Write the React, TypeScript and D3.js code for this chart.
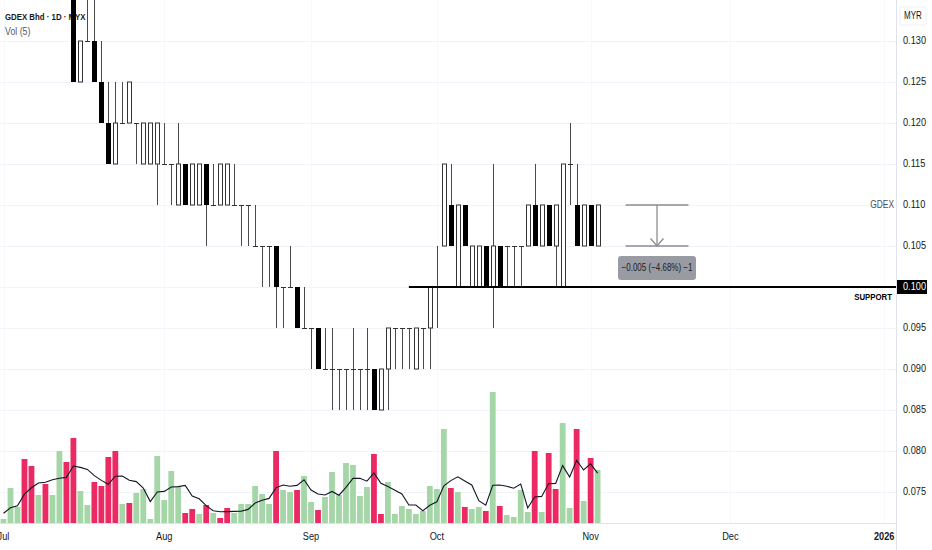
import { useRef, useEffect } from "react";
import * as d3 from "d3";

const WIDTH = 932;
const HEIGHT = 550;
const FONT = "'Liberation Sans', Arial, sans-serif";
const SQUEEZE = 0.8; // the source renders a narrow UI font

// daily bars, Jul 1 2025 .. Nov 4 2025 (index = trading day)
const opens = [
  0.145, 0.14, 0.145, 0.145, 0.145, 0.14, 0.145, 0.14, 0.14, 0.145,
  0.14, 0.125, 0.13, 0.13, 0.125, 0.12, 0.115, 0.12, 0.12, 0.12,
  0.115, 0.115, 0.115, 0.115, 0.115, 0.11, 0.115, 0.11, 0.11, 0.115,
  0.11, 0.11, 0.11, 0.11, 0.11, 0.11, 0.105, 0.105, 0.105, 0.105,
  0.1, 0.1, 0.1, 0.095, 0.095, 0.095, 0.09, 0.09, 0.09, 0.09,
  0.09, 0.09, 0.09, 0.09, 0.085, 0.09, 0.095, 0.095, 0.095, 0.09,
  0.095, 0.095, 0.1, 0.105, 0.11, 0.1, 0.11, 0.1, 0.1, 0.105,
  0.1, 0.105, 0.105, 0.105, 0.105, 0.105, 0.11, 0.105, 0.11, 0.105,
  0.1, 0.115, 0.11, 0.105, 0.11, 0.105,
];
const highs = [
  0.15, 0.145, 0.15, 0.15, 0.145, 0.145, 0.145, 0.145, 0.15, 0.145,
  0.14, 0.13, 0.135, 0.135, 0.13, 0.125, 0.125, 0.125, 0.125, 0.12,
  0.12, 0.12, 0.12, 0.12, 0.115, 0.12, 0.115, 0.115, 0.115, 0.115,
  0.115, 0.115, 0.115, 0.115, 0.11, 0.11, 0.11, 0.105, 0.105, 0.105,
  0.1, 0.105, 0.1, 0.1, 0.095, 0.095, 0.095, 0.095, 0.09, 0.09,
  0.095, 0.09, 0.095, 0.09, 0.09, 0.095, 0.095, 0.095, 0.095, 0.095,
  0.095, 0.1, 0.105, 0.115, 0.115, 0.11, 0.11, 0.105, 0.105, 0.105,
  0.115, 0.105, 0.105, 0.105, 0.105, 0.11, 0.115, 0.11, 0.11, 0.11,
  0.115, 0.12, 0.115, 0.11, 0.11, 0.11,
];
const lows = [
  0.14, 0.14, 0.14, 0.14, 0.14, 0.14, 0.14, 0.14, 0.14, 0.14,
  0.125, 0.125, 0.13, 0.125, 0.12, 0.115, 0.115, 0.12, 0.12, 0.115,
  0.115, 0.115, 0.11, 0.115, 0.11, 0.11, 0.11, 0.11, 0.11, 0.105,
  0.11, 0.11, 0.11, 0.11, 0.105, 0.105, 0.105, 0.1, 0.1, 0.095,
  0.095, 0.1, 0.095, 0.095, 0.09, 0.09, 0.09, 0.085, 0.085, 0.085,
  0.085, 0.085, 0.085, 0.085, 0.085, 0.085, 0.09, 0.09, 0.09, 0.09,
  0.09, 0.09, 0.095, 0.105, 0.105, 0.1, 0.105, 0.1, 0.1, 0.1,
  0.095, 0.1, 0.1, 0.1, 0.1, 0.105, 0.105, 0.105, 0.105, 0.1,
  0.1, 0.11, 0.105, 0.105, 0.105, 0.105,
];
const closes = [
  0.145, 0.145, 0.145, 0.14, 0.14, 0.145, 0.14, 0.145, 0.145, 0.14,
  0.125, 0.13, 0.13, 0.125, 0.12, 0.115, 0.12, 0.12, 0.125, 0.12,
  0.12, 0.12, 0.12, 0.115, 0.115, 0.115, 0.11, 0.115, 0.115, 0.11,
  0.11, 0.115, 0.115, 0.11, 0.11, 0.11, 0.105, 0.105, 0.105, 0.1,
  0.1, 0.1, 0.095, 0.095, 0.095, 0.09, 0.09, 0.09, 0.09, 0.09,
  0.09, 0.09, 0.09, 0.085, 0.09, 0.095, 0.095, 0.095, 0.095, 0.095,
  0.095, 0.1, 0.1, 0.115, 0.105, 0.11, 0.105, 0.105, 0.105, 0.1,
  0.105, 0.1, 0.105, 0.105, 0.105, 0.11, 0.105, 0.11, 0.105, 0.11,
  0.115, 0.115, 0.105, 0.11, 0.105, 0.11,
];

// volume in thousand shares; G = up bar, R = down bar
const volumes = [
  60, 525, 240, 960, 855, 420, 585, 420, 1080, 915,
  1275, 480, 270, 615, 555, 990, 1080, 285, 300, 450,
  510, 60, 1005, 345, 780, 540, 150, 210, 135, 270,
  150, 75, 225, 150, 285, 285, 555, 435, 285, 1080,
  495, 465, 495, 705, 315, 195, 390, 765, 420, 900,
  870, 405, 540, 1035, 135, 615, 135, 255, 210, 135,
  180, 555, 510, 1410, 525, 465, 240, 210, 240, 180,
  1965, 255, 120, 90, 495, 165, 1080, 165, 1050, 510,
  1500, 225, 1410, 330, 975, 795,
];
const prevVolumes = [120, 90, 90, 375]; // last days of June, only seed the MA
const volDir = (
  "GGGRRGRGGR" + "RGGRRRRGRG" + "GGGGGGRRGR" + "GRRGGGGGGR" + "GGRGGRGGGG" +
  "GGGRRGGGGG" + "GGGGRGRGGR" + "GRGGGGRGRR" + "GGRGRG"
).split("");

const priceTicks = [0.075, 0.08, 0.085, 0.09, 0.095, 0.1, 0.105, 0.11, 0.115, 0.12, 0.125, 0.13];
const monthLabels = ["Jul", "Aug", "Sep", "Oct", "Nov", "Dec", "2026"];
const monthIndex = [0, 23, 44, 62, 84, 104, 126];

const supportPrice = 0.1;
const supportFrom = 58;
const lastPrice = 0.11;
const measure = { from: 89, to: 98, top: 0.11, bottom: 0.105, text: "\u22120.005 (\u22124.68%) \u22121" };

type Sel = d3.Selection<SVGGElement, unknown, null, undefined> | d3.Selection<SVGSVGElement, unknown, null, undefined>;

// narrow text: x/y are the anchor point, glyphs squeezed horizontally
function label(
  parent: Sel,
  x: number,
  y: number,
  txt: string,
  size: number,
  opts: { anchor?: string; weight?: number; fill?: string } = {},
) {
  return (parent as any)
    .append("text")
    .attr("transform", `translate(${x},${y}) scale(${SQUEEZE},1)`)
    .attr("text-anchor", opts.anchor ?? "start")
    .attr("dominant-baseline", "middle")
    .attr("font-family", FONT)
    .attr("font-size", size)
    .attr("font-weight", opts.weight ?? 400)
    .attr("fill", opts.fill ?? "#131722")
    .text(txt);
}

export default function App() {
  const svgRef = useRef<SVGSVGElement>(null);

  useEffect(() => {
    if (!svgRef.current) return;
    const svg = d3.select(svgRef.current);
    svg.selectAll("*").remove();

    const plotRight = 896;
    const paneBottom = 523;
    const volTop = 392;

    const x = d3.scaleLinear().domain([0, 85]).range([3.5, 597.6]);
    const y = d3.scaleLinear().domain([0.075, 0.13]).range([492, 41]);
    const yVol = d3.scaleLinear().domain([0, d3.max(volumes) ?? 1]).range([paneBottom, volTop]);

    svg.append("rect").attr("width", WIDTH).attr("height", HEIGHT).attr("fill", "#ffffff");

    svg.append("defs").append("clipPath").attr("id", "pane")
      .append("rect").attr("width", plotRight).attr("height", paneBottom);

    // grid
    const grid = svg.append("g");
    grid.selectAll("line.h").data(priceTicks).join("line")
      .attr("x1", 0).attr("x2", plotRight)
      .attr("y1", (d) => Math.round(y(d)) + 0.5).attr("y2", (d) => Math.round(y(d)) + 0.5)
      .attr("stroke", "#f0f3fa");
    grid.selectAll("line.v").data(monthIndex).join("line")
      .attr("x1", (d) => Math.round(x(d)) + 0.5).attr("x2", (d) => Math.round(x(d)) + 0.5)
      .attr("y1", 0).attr("y2", paneBottom)
      .attr("stroke", "#f7f8fa");

    // legend
    label(svg, 5, 17, "GDEX Bhd \u00b7 1D \u00b7 MYX", 9.8, { weight: 700 });
    label(svg, 5, 32, "Vol (5)", 11, { fill: "#555a66" });

    const pane = svg.append("g").attr("clip-path", "url(#pane)");

    // volume bars
    pane.selectAll("rect.vol").data(volumes).join("rect")
      .attr("x", (_, i) => x(i) - 2.9)
      .attr("width", 5.8)
      .attr("y", (d) => yVol(d))
      .attr("height", (d) => paneBottom - yVol(d))
      .attr("fill", (_, i) => (volDir[i] === "G" ? "#a5d6a7" : "#eb2a64"));

    // Vol MA(5)
    const all = [...prevVolumes, ...volumes];
    const ma = volumes.map((_, i) => d3.mean(all.slice(i, i + 5)) ?? 0);
    pane.append("path").datum(ma)
      .attr("d", d3.line<number>().x((_, i) => x(i)).y((d) => yVol(d)))
      .attr("fill", "none").attr("stroke", "#131722").attr("stroke-width", 1.1);

    // candles
    const candles = pane.append("g");
    opens.forEach((o, i) => {
      const c = closes[i];
      const cx = Math.round(x(i)) + 0.5;
      candles.append("line")
        .attr("x1", cx).attr("x2", cx)
        .attr("y1", y(highs[i])).attr("y2", y(lows[i]))
        .attr("stroke", "#4a4a4a").attr("stroke-width", 1);
      if (o === c) {
        candles.append("line")
          .attr("x1", cx - 2.5).attr("x2", cx + 2.5)
          .attr("y1", Math.round(y(o)) + 0.5).attr("y2", Math.round(y(o)) + 0.5)
          .attr("stroke", "#333333");
      } else if (c > o) {
        candles.append("rect")
          .attr("x", cx - 2).attr("width", 4)
          .attr("y", y(c)).attr("height", y(o) - y(c))
          .attr("fill", "#ffffff").attr("stroke", "#333333").attr("stroke-width", 1);
      } else {
        candles.append("rect")
          .attr("x", cx - 2.5).attr("width", 5)
          .attr("y", y(o)).attr("height", y(c) - y(o))
          .attr("fill", "#000000");
      }
    });

    // support line
    pane.append("line")
      .attr("x1", x(supportFrom)).attr("x2", plotRight)
      .attr("y1", y(supportPrice)).attr("y2", y(supportPrice))
      .attr("stroke", "#000000").attr("stroke-width", 2);
    label(svg, 892, y(supportPrice) + 10, "SUPPORT", 9.8, { anchor: "end", weight: 700, fill: "#000000" });

    // price range measure
    const mx1 = x(measure.from);
    const mx2 = x(measure.to);
    const mxm = (mx1 + mx2) / 2;
    const myt = y(measure.top);
    const myb = y(measure.bottom);
    const mg = svg.append("g").attr("stroke", "#8a8d94").attr("stroke-width", 1.3).attr("fill", "none");
    mg.append("line").attr("x1", mx1).attr("x2", mx2).attr("y1", myt).attr("y2", myt);
    mg.append("line").attr("x1", mx1).attr("x2", mx2).attr("y1", myb).attr("y2", myb);
    mg.append("line").attr("x1", mxm).attr("x2", mxm).attr("y1", myt).attr("y2", myb);
    mg.append("polyline").attr("points", `${mxm - 6.5},${myb - 7.5} ${mxm},${myb} ${mxm + 6.5},${myb - 7.5}`);
    svg.append("rect").attr("x", mxm - 39).attr("y", myb + 10).attr("width", 78).attr("height", 24)
      .attr("rx", 3).attr("fill", "#989ba2");
    label(svg, mxm, myb + 22.5, measure.text, 10, { anchor: "middle", fill: "#1e2026" });

    // symbol label on last price
    label(svg, 894, y(lastPrice), "GDEX", 10.5, { anchor: "end", fill: "#4a4e59" });

    // axes
    svg.append("line").attr("x1", plotRight + 0.5).attr("x2", plotRight + 0.5).attr("y1", 0).attr("y2", HEIGHT)
      .attr("stroke", "#e0e3eb");
    svg.append("line").attr("x1", 0).attr("x2", plotRight).attr("y1", paneBottom + 0.5).attr("y2", paneBottom + 0.5)
      .attr("stroke", "#e0e3eb");

    const fmt = d3.format(".3f");
    priceTicks.filter((d) => d !== supportPrice).forEach((d) => {
      label(svg, 903, y(d), fmt(d), 11.5);
    });

    svg.append("rect").attr("x", plotRight + 1).attr("y", y(supportPrice) - 7).attr("width", 30).attr("height", 14)
      .attr("fill", "#000000");
    label(svg, 903, y(supportPrice), fmt(supportPrice), 11.5, { fill: "#ffffff" });

    svg.append("rect").attr("x", 900).attr("y", 7).attr("width", 26).attr("height", 18)
      .attr("fill", "none").attr("stroke", "#f0f1f4");
    label(svg, 913, 16, "MYR", 10, { anchor: "middle" });

    monthLabels.forEach((m, i) => {
      label(svg, x(monthIndex[i]), 537, m, 11.5, { anchor: "middle", weight: m === "2026" ? 700 : 400 });
    });
  }, []);

  return (
    <svg
      ref={svgRef}
      width={WIDTH}
      height={HEIGHT}
      style={{ position: "absolute", left: 0, top: 0, display: "block" }}
    />
  );
}
